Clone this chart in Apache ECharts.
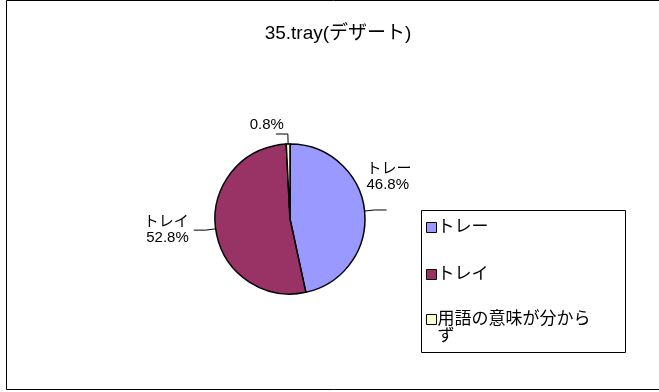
<!DOCTYPE html>
<html><head><meta charset="utf-8">
<script src="https://cdn.jsdelivr.net/npm/echarts@6/dist/echarts.min.js"></script>
<style>html,body{margin:0;padding:0;background:#fff}#c{width:659px;height:392px}</style>
</head><body><div id="c"></div>
<script>
const titleText = '35.tray(デザート)';
const categories = ['トレー', 'トレイ', '用語の意味が分からず'];
const values = [46.8, 52.8, 0.8];
const colors = ['#9999FF', '#993366', '#FFFFCC'];
const legendLabels = ['トレー', 'トレイ', '\n用語の意味が分から\nず'];

const font = '"Liberation Sans", "Noto Sans CJK JP", sans-serif';
const legendTops = [214, 261, 289];
const chart = echarts.init(document.getElementById('c'));
chart.setOption({
  animation: false,
  graphic: [{
    type: 'rect', shape: {x: 6.5, y: 0.5, width: 700, height: 389},
    style: {fill: 'none', stroke: '#000', lineWidth: 1}
  }, {
    type: 'rect', shape: {x: 421.5, y: 210.5, width: 204, height: 142},
    style: {fill: '#fff', stroke: '#000', lineWidth: 1}, z: 0
  }],
  title: {
    text: titleText, left: 333, top: 19, textAlign: 'center',
    textStyle: {fontFamily: font, fontSize: 19, fontWeight: 'normal', color: '#000'}
  },
  legend: categories.map((c, i) => ({
    orient: 'vertical', left: 421, top: legendTops[i],
    itemWidth: 10, itemHeight: 10, icon: 'rect',
    formatter: function () { return legendLabels[i]; },
    textStyle: {fontFamily: font, fontSize: 17, color: '#000', lineHeight: 17,
      padding: [0, 0, 0, -4]},
    itemStyle: {borderColor: '#000', borderWidth: 1},
    data: [c]
  })),
  series: [{
    type: 'pie', center: [290, 219], radius: 75, startAngle: 90, clockwise: true,
    color: colors,
    data: categories.map((c, i) => ({name: c, value: values[i]})),
    itemStyle: {borderColor: '#000', borderWidth: 1.5},
    label: {
      fontFamily: font, fontSize: 15, color: '#000', lineHeight: 16,
      formatter: function (p) { return p.dataIndex === 2 ? p.value.toFixed(1) + '%' : p.name + '\n' + p.value.toFixed(1) + '%'; }
    },
    labelLine: {show: true, length: 10, length2: 12, lineStyle: {color: '#000', width: 1}},
    labelLayout: function (p) {
      if (p.dataIndex === 0) return {dy: -33, dx: -25};
      if (p.dataIndex === 2) return {dy: -9, dx: 13};
      return {};
    },
    emphasis: {disabled: true}
  }]
});
</script></body></html>
